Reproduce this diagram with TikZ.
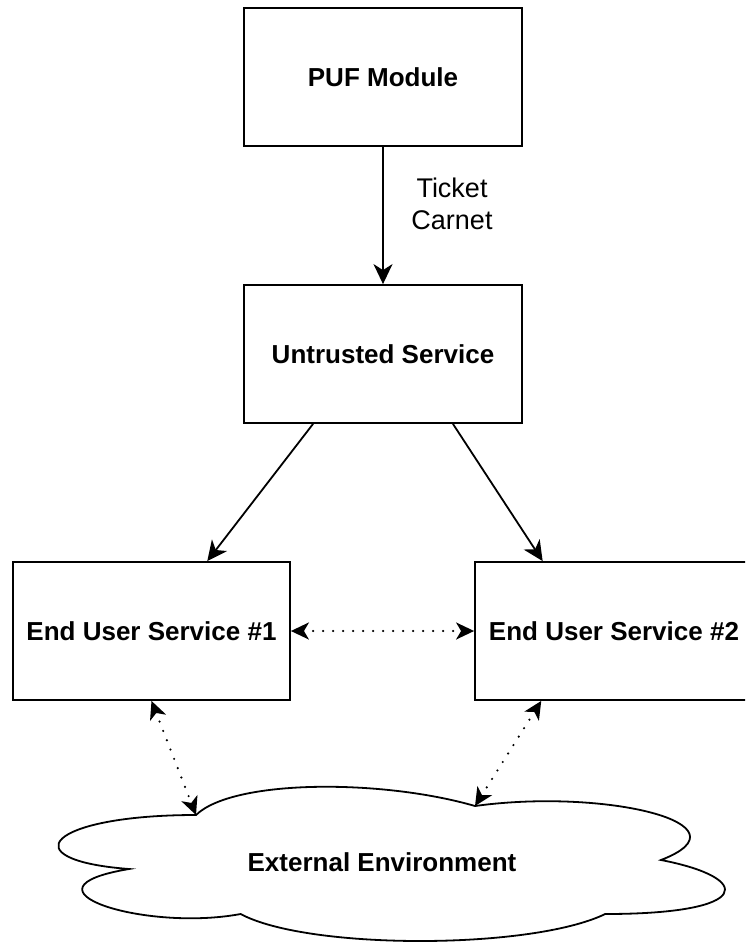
\documentclass[tikz,border=0pt]{standalone}
\usepackage{fontspec}
\setmainfont{Liberation Sans}
\usetikzlibrary{arrows.meta,calc}

\tikzset{
  box/.style={draw, line width=1.8pt, rectangle, inner sep=0pt,
    minimum width=278pt, minimum height=138pt,
    font=\fontsize{26}{30}\selectfont\bfseries},
  flow/.style={line width=1.8pt, -{Stealth[length=20pt,width=19pt,inset=6pt]}},
  link/.style={line width=2.4pt, line cap=round, dash pattern=on 0pt off 10pt,
    {Stealth[length=18pt,width=17pt,inset=5pt]}-{Stealth[length=18pt,width=17pt,inset=5pt]}},
  cloudline/.style={draw, line width=1.8pt, fill=white}
}

\begin{document}
\begin{tikzpicture}[x=1pt, y=-1pt]
  \useasboundingbox (0,0) rectangle (745,944);
  \clip (0,0) rectangle (745,944);

  % boxes
  \node[box] (puf) at (383,77) {PUF Module};
  \node[box] (unt) at (383,354) {Untrusted Service};
  \node[box, minimum width=277pt] (eu1) at (151.5,631) {End User Service \#1};
  \node[box] (eu2) at (614,631) {End User Service \#2};

  % cloud (x0=10, y0=770, w=744, h=180)
  \begin{scope}[shift={(10,770)}, x=744pt, y=-180pt]
    \draw[cloudline]
      (0.25,0.25)
      .. controls (0.05,0.25) and (0,0.5) .. (0.16,0.55)
      .. controls (0,0.66) and (0.18,0.9) .. (0.31,0.8)
      .. controls (0.4,1) and (0.7,1) .. (0.8,0.8)
      .. controls (1,0.8) and (1,0.6) .. (0.875,0.5)
      .. controls (1,0.3) and (0.8,0.1) .. (0.625,0.2)
      .. controls (0.5,0.05) and (0.3,0.05) .. (0.25,0.25) -- cycle;
    \coordinate (cl1) at (0.25,0.25);
    \coordinate (cl2) at (0.625,0.2);
  \end{scope}
  \node[font=\fontsize{26}{30}\selectfont\bfseries] (env) at (382,862) {External Environment};

  % connectors
  \draw[flow] (puf) -- (unt);
  \node[align=center, font=\fontsize{27}{32}\selectfont] (lbl) at (452,204) {Ticket\\Carnet};

  \draw[flow] ($(unt.south west)!0.25!(unt.south east)$) -- ($(eu1.north west)!0.70!(eu1.north east)$);
  \draw[flow] ($(unt.south west)!0.75!(unt.south east)$) -- ($(eu2.north west)!0.245!(eu2.north east)$);

  \draw[link] (eu1.east) -- (eu2.west);
  \draw[link] (eu1.south) -- (cl1);
  \draw[link] ($(eu2.south west)!0.24!(eu2.south east)$) -- (cl2);
\end{tikzpicture}
\end{document}
